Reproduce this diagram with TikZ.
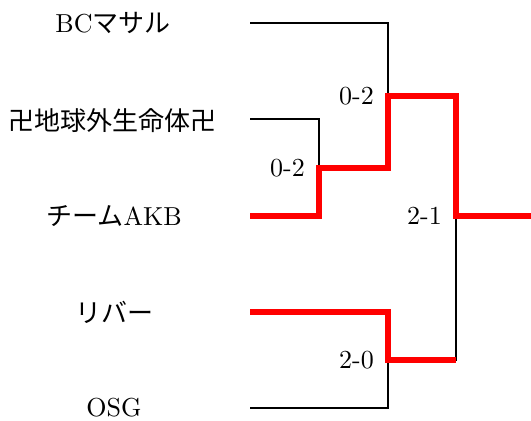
\documentclass[tikz,border=0pt]{standalone}
\usepackage{fontspec}
\setmainfont{lmroman10-regular.otf}
\newfontfamily\jpfont{Noto Sans CJK JP}
\usetikzlibrary{positioning}

\begin{document}
\begin{tikzpicture}[x=1pt, y=-1pt,
			team/.style={font=\fontsize{26}{30}\selectfont},
			score/.style={left=14pt, inner sep=0pt, font=\fontsize{26}{30}\selectfont},
			lose/.style={draw=black, line width=2pt},
			win/.style={draw=red, line width=6.5pt, line join=miter}]

			\useasboundingbox (0,0) rectangle (531,421);

			% teams
			\node[team] (bc) at (113,23) {BC{\jpfont マサル}};
			\node[team] (ufo) at (113,121) {\jpfont 卍地球外生命体卍};
			\node[team] (akb) at (114,216) {{\jpfont チーム}AKB};
			\node[team] (river) at (114,312) {\jpfont リバー};
			\node[team] (osg) at (114,408) {OSG};

			% line starts
			\coordinate (bcl) at (250,23);
			\coordinate (ufol) at (250,119);
			\coordinate (akbl) at (250,216);
			\coordinate (riverl) at (250,312);
			\coordinate (osgl) at (250,408);

			% junctions
			\coordinate (qf) at (319,168);
			\coordinate (sf1) at (388,96);
			\coordinate (sf2) at (388,360);
			\coordinate (fin) at (456,216);
			\coordinate (champ) at (531,216);

			% losers
			\draw[lose] (bcl) -| (sf1);
			\draw[lose] (ufol) -| (qf);
			\draw[lose] (osgl) -| (sf2);
			\draw[lose] (fin) |- (sf2);

			% winners
			\draw[win] (akbl) -| (qf) -| (sf1) -| (fin) -- (champ);
			\draw[win] (riverl) -| (sf2) -- (sf2 -| fin);

			% scores
			\node[score] (s1) at (qf) {0-2};
			\node[score] (s2) at (sf1) {0-2};
			\node[score] (s3) at (sf2) {2-0};
			\node[score] (s4) at (fin) {2-1};
		\end{tikzpicture}
\end{document}
